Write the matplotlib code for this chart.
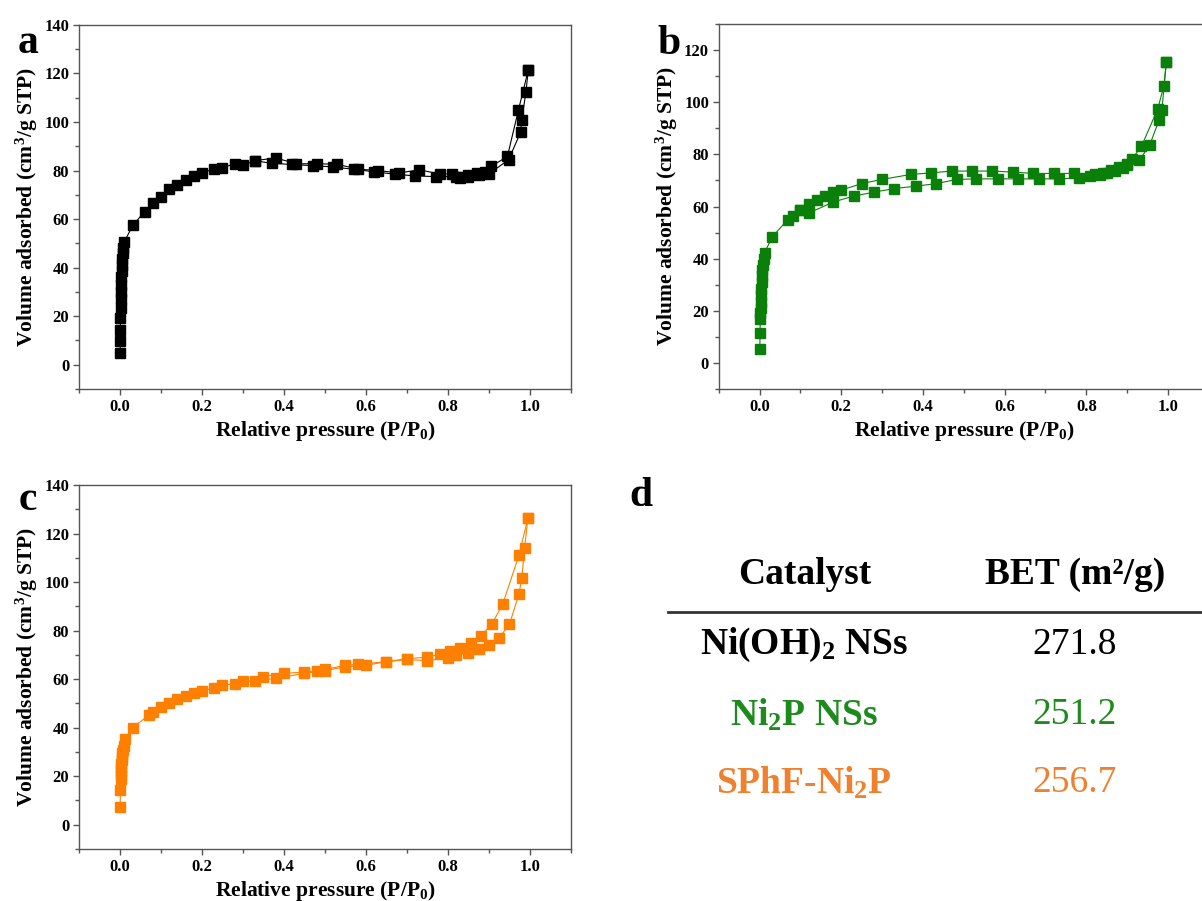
import matplotlib
matplotlib.use("Agg")
import matplotlib.pyplot as plt
from matplotlib.ticker import MultipleLocator

plt.rcParams['font.family'] = ['Liberation Serif', 'DejaVu Serif']
plt.rcParams['font.weight'] = 'bold'
plt.rcParams['mathtext.fontset'] = 'custom'
plt.rcParams['mathtext.rm'] = 'Liberation Serif:bold'
plt.rcParams['mathtext.it'] = 'Liberation Serif:bold'
plt.rcParams['mathtext.bf'] = 'Liberation Serif:bold'

# Panel a: Ni(OH)2 NSs
p_a_ads = [0.0005, 0.0007, 0.001, 0.0012, 0.0015, 0.002, 0.0025, 0.003, 0.0035, 0.004,
           0.005, 0.006, 0.007, 0.008, 0.01, 0.032, 0.06, 0.08, 0.1, 0.12, 0.14, 0.16,
           0.18, 0.2, 0.23, 0.25, 0.28, 0.3, 0.33, 0.38, 0.43, 0.48, 0.53, 0.58, 0.63,
           0.68, 0.73, 0.78, 0.81, 0.83, 0.85, 0.87, 0.89, 0.905, 0.945, 0.972, 0.996]
v_a_ads = [4.8, 9.6, 14.4, 19.2, 23.3, 27, 30, 33, 36, 38.5,
           41, 43.5, 46, 48, 50.5, 57.6, 63, 66.8, 69.3, 72.3, 74, 76,
           77.8, 79.2, 80.6, 81.2, 82.8, 82.3, 84.1, 85.2, 82.8, 82.8, 82.6, 80.6, 80,
           79, 80.3, 78.6, 78.6, 77.5, 78, 79, 79.6, 81.7, 85.8, 105, 121.5]
p_a_des = [0.996, 0.99, 0.98, 0.977, 0.948, 0.9, 0.875, 0.85, 0.83, 0.82, 0.77, 0.72,
           0.67, 0.62, 0.57, 0.52, 0.47, 0.42, 0.37, 0.33]
v_a_des = [121.5, 112.2, 100.8, 95.7, 84.5, 78.6, 78, 77.5, 77, 77.5, 77.5, 77.8,
           78.5, 79.5, 80.5, 81.5, 82, 82.5, 83, 84]

# Panel b: Ni2P NSs
p_b_ads = [0.0005, 0.001, 0.0015, 0.002, 0.0025, 0.003, 0.0035, 0.004, 0.005, 0.006,
           0.007, 0.008, 0.01, 0.012, 0.031, 0.069, 0.082, 0.1, 0.122, 0.18, 0.23, 0.28,
           0.33, 0.383, 0.433, 0.483, 0.53, 0.583, 0.633, 0.683, 0.733, 0.783, 0.81,
           0.833, 0.85, 0.87, 0.89, 0.9, 0.93, 0.955, 0.978, 0.985, 0.996]
v_b_ads = [5.4, 11.3, 17, 19, 21, 23.5, 26, 28.5, 31, 33.5,
           35.5, 37.5, 40, 42.2, 48.4, 55, 56.5, 58.8, 57.6, 61.7, 64, 65.5,
           66.9, 67.8, 68.8, 70.4, 70.6, 70.6, 70.6, 70.6, 70.6, 71, 71.6,
           71.9, 72.7, 73.5, 74.8, 76, 77.8, 83.5, 93.1, 97, 115.5]
p_b_des = [0.996, 0.99, 0.975, 0.935, 0.912, 0.9, 0.88, 0.86, 0.84, 0.82, 0.77, 0.72,
           0.67, 0.62, 0.57, 0.52, 0.47, 0.42, 0.37, 0.3, 0.25, 0.2, 0.18, 0.16, 0.14,
           0.12, 0.1]
v_b_des = [115.5, 106.4, 97.5, 83.1, 78.3, 76.5, 75, 74, 73, 72.5, 72.7, 72.7,
           72.7, 73.2, 73.6, 73.6, 73.6, 72.9, 72.3, 70.4, 68.8, 66.3, 65.5, 64, 62.4,
           60.8, 58.8]

# Panel c: SPhF-Ni2P
p_c_ads = [0.0005, 0.001, 0.0015, 0.002, 0.0025, 0.003, 0.0035, 0.004, 0.005, 0.006,
           0.008, 0.01, 0.012, 0.032, 0.07, 0.08, 0.1, 0.12, 0.14, 0.16, 0.18, 0.2,
           0.23, 0.25, 0.28, 0.3, 0.33, 0.38, 0.45, 0.5, 0.55, 0.6, 0.65, 0.7, 0.75,
           0.8, 0.82, 0.85, 0.875, 0.9, 0.925, 0.95, 0.973, 0.98, 0.987, 0.995]
v_c_ads = [7.3, 14.2, 19, 20.5, 22, 23.5, 25, 26.5, 28, 29.5,
           31, 32.5, 35.4, 40, 45.2, 46.4, 48.6, 50.3, 51.7, 53, 54.1, 55.2,
           56.3, 57.4, 58.2, 59.1, 59.3, 60.3, 62.4, 63.5, 65.1, 65.7, 67.2, 68.1, 67.6,
           68.8, 69.8, 70.9, 72.3, 74, 77.1, 82.6, 94.9, 101.5, 114.2, 126.3]
p_c_des = [0.995, 0.973, 0.934, 0.907, 0.88, 0.856, 0.83, 0.806, 0.78, 0.75, 0.7,
           0.65, 0.58, 0.55, 0.5, 0.48, 0.45, 0.4, 0.35]
v_c_des = [126.3, 111, 91.1, 82.6, 77.8, 75, 73, 71.6, 70.2, 69.1, 68.4,
           67.2, 66.1, 65.7, 64, 63.5, 62.9, 62.4, 61]

# Panel d: BET table
catalysts = ['Ni(OH)$_2$ NSs', 'Ni$_2$P NSs', 'SPhF-Ni$_2$P']
bet_values = ['271.8', '251.2', '256.7']
row_colors = ['black', '#1e8a1e', '#f0802e']

fig = plt.figure(figsize=(12.02, 9.01), dpi=100)

ax_a = fig.add_axes([0.0657, 0.5683, 0.4093, 0.404])
ax_b = fig.add_axes([0.598, 0.5683, 0.4077, 0.405])
ax_c = fig.add_axes([0.0657, 0.0577, 0.4093, 0.404])
ax_d = fig.add_axes([0.53, 0.0, 0.47, 0.48])

panels = [
    (ax_a, p_a_ads, v_a_ads, p_a_des, v_a_des, 'black', 140),
    (ax_b, p_b_ads, v_b_ads, p_b_des, v_b_des, '#0a800a', 130),
    (ax_c, p_c_ads, v_c_ads, p_c_des, v_c_des, '#ff8000', 140),
]

for ax, px, vx, pd_, vd, col, ytop in panels:
    ax.plot(px, vx, '-s', color=col, ms=6.5, lw=0.8, mec=col)
    ax.plot(pd_, vd, '-s', color=col, ms=6.5, lw=0.8, mec=col)
    ax.set_xlim(-0.1, 1.1)
    ax.set_ylim(-10, ytop)
    ax.xaxis.set_minor_locator(MultipleLocator(0.1))
    ax.yaxis.set_minor_locator(MultipleLocator(10))
    ax.set_xticks([0, 0.2, 0.4, 0.6, 0.8, 1.0])
    ax.set_xticklabels(['0.0', '0.2', '0.4', '0.6', '0.8', '1.0'])
    ax.set_yticks(list(range(0, ytop + 1, 20)))
    ax.tick_params(which='major', direction='out', length=4, width=1, labelsize=12,
                   top=False, right=False, color='#555555', pad=3)
    ax.tick_params(which='minor', direction='out', length=3, width=1,
                   top=False, right=False, color='#555555')
    for s in ax.spines.values():
        s.set_color('#555555')
        s.set_linewidth(1)
    for lab in ax.get_xticklabels() + ax.get_yticklabels():
        lab.set_fontweight('bold')
    ax.set_xlabel('Relative pressure (P/P$_0$)', fontsize=15.5, fontweight='bold', labelpad=3)
    ax.set_ylabel('Volume adsorbed (cm$^3$/g STP)', fontsize=15.5, fontweight='bold', labelpad=3)

fig.text(0.023, 0.952, 'a', fontsize=30, fontweight='bold', ha='center', va='center')
fig.text(0.557, 0.951, 'b', fontsize=30, fontweight='bold', ha='center', va='center')
fig.text(0.023, 0.445, 'c', fontsize=30, fontweight='bold', ha='center', va='center')
fig.text(0.533, 0.450, 'd', fontsize=30, fontweight='bold', ha='center', va='center')

# table
ax_d.set_xlim(0, 1)
ax_d.set_ylim(0, 1)
ax_d.axis('off')
ax_d.text(0.296, 0.754, 'Catalyst', fontsize=27, fontweight='bold', ha='center', va='center')
ax_d.text(0.775, 0.754, 'BET (m²/g)', fontsize=27, fontweight='bold', ha='center', va='center')
ax_d.axhline(0.668, xmin=0.055, xmax=1.0, color='#333333', lw=2)
row_y = [0.592, 0.430, 0.273]
for name, val, c, y in zip(catalysts, bet_values, row_colors, row_y):
    ax_d.text(0.296, y, name, fontsize=27, fontweight='bold', ha='center', va='center', color=c)
    ax_d.text(0.775, y, val, fontsize=27, fontweight='normal', ha='center', va='center', color=c)

fig.savefig('out.png', dpi=100)
